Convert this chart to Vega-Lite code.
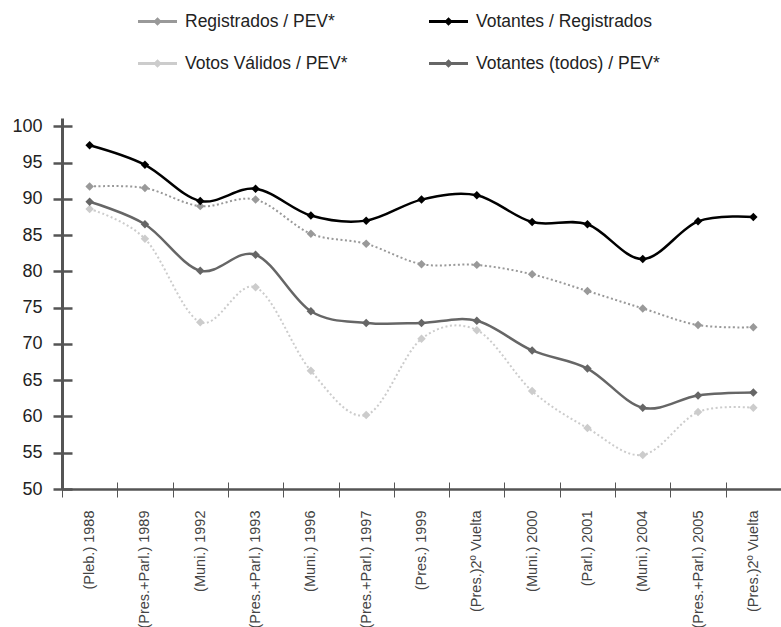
{
  "$schema": "https://vega.github.io/schema/vega-lite/v6.json",
  "width": 719,
  "height": 371,
  "autosize": "none",
  "padding": {"left": 62, "top": 118, "right": 0, "bottom": 138},
  "background": "white",
  "config": {
    "view": {"stroke": null},
    "font": "Liberation Sans",
    "axis": {"grid": false, "title": null, "labelFont": "Liberation Sans"}
  },
  "data": {
    "values": [
      {"eleccion": "(Pleb.) 1988", "serie": "Registrados / PEV*", "valor": 91.7},
      {"eleccion": "(Pres.+Parl.) 1989", "serie": "Registrados / PEV*", "valor": 91.5},
      {"eleccion": "(Muni.) 1992", "serie": "Registrados / PEV*", "valor": 89.0},
      {"eleccion": "(Pres.+Parl.) 1993", "serie": "Registrados / PEV*", "valor": 89.9},
      {"eleccion": "(Muni.) 1996", "serie": "Registrados / PEV*", "valor": 85.2},
      {"eleccion": "(Pres.+Parl.) 1997", "serie": "Registrados / PEV*", "valor": 83.8},
      {"eleccion": "(Pres.) 1999", "serie": "Registrados / PEV*", "valor": 81.0},
      {"eleccion": "(Pres.)2º Vuelta", "serie": "Registrados / PEV*", "valor": 80.9},
      {"eleccion": "(Muni.) 2000", "serie": "Registrados / PEV*", "valor": 79.6},
      {"eleccion": "(Parl.) 2001", "serie": "Registrados / PEV*", "valor": 77.3},
      {"eleccion": "(Muni.) 2004", "serie": "Registrados / PEV*", "valor": 74.9},
      {"eleccion": "(Pres.+Parl.) 2005", "serie": "Registrados / PEV*", "valor": 72.6},
      {"eleccion": "(Pres.)2º Vuelta#2", "serie": "Registrados / PEV*", "valor": 72.3},
      {"eleccion": "(Pleb.) 1988", "serie": "Votantes / Registrados", "valor": 97.4},
      {"eleccion": "(Pres.+Parl.) 1989", "serie": "Votantes / Registrados", "valor": 94.7},
      {"eleccion": "(Muni.) 1992", "serie": "Votantes / Registrados", "valor": 89.7},
      {"eleccion": "(Pres.+Parl.) 1993", "serie": "Votantes / Registrados", "valor": 91.4},
      {"eleccion": "(Muni.) 1996", "serie": "Votantes / Registrados", "valor": 87.7},
      {"eleccion": "(Pres.+Parl.) 1997", "serie": "Votantes / Registrados", "valor": 87.0},
      {"eleccion": "(Pres.) 1999", "serie": "Votantes / Registrados", "valor": 89.9},
      {"eleccion": "(Pres.)2º Vuelta", "serie": "Votantes / Registrados", "valor": 90.5},
      {"eleccion": "(Muni.) 2000", "serie": "Votantes / Registrados", "valor": 86.8},
      {"eleccion": "(Parl.) 2001", "serie": "Votantes / Registrados", "valor": 86.5},
      {"eleccion": "(Muni.) 2004", "serie": "Votantes / Registrados", "valor": 81.7},
      {"eleccion": "(Pres.+Parl.) 2005", "serie": "Votantes / Registrados", "valor": 86.9},
      {"eleccion": "(Pres.)2º Vuelta#2", "serie": "Votantes / Registrados", "valor": 87.5},
      {"eleccion": "(Pleb.) 1988", "serie": "Votos Válidos / PEV*", "valor": 88.6},
      {"eleccion": "(Pres.+Parl.) 1989", "serie": "Votos Válidos / PEV*", "valor": 84.5},
      {"eleccion": "(Muni.) 1992", "serie": "Votos Válidos / PEV*", "valor": 73.0},
      {"eleccion": "(Pres.+Parl.) 1993", "serie": "Votos Válidos / PEV*", "valor": 77.8},
      {"eleccion": "(Muni.) 1996", "serie": "Votos Válidos / PEV*", "valor": 66.3},
      {"eleccion": "(Pres.+Parl.) 1997", "serie": "Votos Válidos / PEV*", "valor": 60.2},
      {"eleccion": "(Pres.) 1999", "serie": "Votos Válidos / PEV*", "valor": 70.7},
      {"eleccion": "(Pres.)2º Vuelta", "serie": "Votos Válidos / PEV*", "valor": 71.9},
      {"eleccion": "(Muni.) 2000", "serie": "Votos Válidos / PEV*", "valor": 63.5},
      {"eleccion": "(Parl.) 2001", "serie": "Votos Válidos / PEV*", "valor": 58.4},
      {"eleccion": "(Muni.) 2004", "serie": "Votos Válidos / PEV*", "valor": 54.7},
      {"eleccion": "(Pres.+Parl.) 2005", "serie": "Votos Válidos / PEV*", "valor": 60.6},
      {"eleccion": "(Pres.)2º Vuelta#2", "serie": "Votos Válidos / PEV*", "valor": 61.2},
      {"eleccion": "(Pleb.) 1988", "serie": "Votantes (todos) / PEV*", "valor": 89.6},
      {"eleccion": "(Pres.+Parl.) 1989", "serie": "Votantes (todos) / PEV*", "valor": 86.5},
      {"eleccion": "(Muni.) 1992", "serie": "Votantes (todos) / PEV*", "valor": 80.1},
      {"eleccion": "(Pres.+Parl.) 1993", "serie": "Votantes (todos) / PEV*", "valor": 82.3},
      {"eleccion": "(Muni.) 1996", "serie": "Votantes (todos) / PEV*", "valor": 74.5},
      {"eleccion": "(Pres.+Parl.) 1997", "serie": "Votantes (todos) / PEV*", "valor": 72.9},
      {"eleccion": "(Pres.) 1999", "serie": "Votantes (todos) / PEV*", "valor": 72.9},
      {"eleccion": "(Pres.)2º Vuelta", "serie": "Votantes (todos) / PEV*", "valor": 73.2},
      {"eleccion": "(Muni.) 2000", "serie": "Votantes (todos) / PEV*", "valor": 69.1},
      {"eleccion": "(Parl.) 2001", "serie": "Votantes (todos) / PEV*", "valor": 66.6},
      {"eleccion": "(Muni.) 2004", "serie": "Votantes (todos) / PEV*", "valor": 61.2},
      {"eleccion": "(Pres.+Parl.) 2005", "serie": "Votantes (todos) / PEV*", "valor": 62.9},
      {"eleccion": "(Pres.)2º Vuelta#2", "serie": "Votantes (todos) / PEV*", "valor": 63.3}
    ]
  },
  "resolve": {
    "axis": {"x": "independent", "y": "independent"},
    "legend": {"color": "independent"}
  },
  "layer": [
    {
      "transform": [{"filter": {"field": "serie", "oneOf": ["Votantes / Registrados", "Votantes (todos) / PEV*"]}}],
      "mark": {"type": "line", "interpolate": "cardinal", "strokeWidth": 2.5},
      "encoding": {
        "x": {
          "field": "eleccion", "type": "nominal", "sort": null,
          "scale": {"type": "band", "paddingInner": 0, "paddingOuter": 0},
          "axis": {
            "orient": "bottom", "tickBand": "extent", "tickSize": 8, "tickWidth": 1, "tickColor": "#555",
            "domainColor": "#555", "domainWidth": 2.5, "labelAngle": 270, "labelAlign": "right",
            "labelBaseline": "middle", "labelPadding": 13, "labelFontSize": 14.5, "labelColor": "#444",
            "labelLimit": 0, "labelOverlap": false,
            "labelExpr": "replace(datum.label, '#2', '')"
          }
        },
        "y": {
          "field": "valor", "type": "quantitative",
          "scale": {"domain": [50, 101.15], "nice": false, "zero": false},
          "axis": {
            "orient": "left", "values": [50, 55, 60, 65, 70, 75, 80, 85, 90, 95, 100],
            "tickSize": 9, "tickWidth": 2.5, "tickColor": "#555", "domainColor": "#555", "domainWidth": 3,
            "labelFontSize": 18, "labelPadding": 11, "labelColor": "#222"
          }
        },
        "color": {
          "field": "serie", "type": "nominal",
          "scale": {
            "domain": ["Registrados / PEV*", "Votantes / Registrados", "Votos Válidos / PEV*", "Votantes (todos) / PEV*"],
            "range": ["#999999", "#000000", "#cccccc", "#666666"]
          },
          "legend": {
            "orient": "none", "legendX": 84, "legendY": -108, "columns": 2, "direction": "horizontal",
            "title": null, "padding": 0,
            "symbolType": "M-2,0H2M0,-0.22L0.22,0L0,0.22L-0.22,0Z",
            "symbolSize": 380, "symbolStrokeWidth": 3,
            "labelFontSize": 17.5, "labelColor": "#222", "labelFont": "Liberation Sans", "labelLimit": 400,
            "labelOffset": 16, "columnPadding": 75, "rowPadding": 22,
            "encode": {
              "symbols": {
                "update": {
                  "fill": {"scale": "color", "field": "value"},
                  "stroke": {"scale": "color", "field": "value"},
                  "strokeWidth": {"value": 3},
                  "opacity": {"value": 1}
                }
              }
            }
          }
        }
      }
    },
    {
      "transform": [{"filter": {"field": "serie", "oneOf": ["Registrados / PEV*", "Votos Válidos / PEV*"]}}],
      "mark": {"type": "line", "interpolate": "cardinal", "strokeWidth": 2, "strokeDash": [2, 2.5]},
      "encoding": {
        "x": {"field": "eleccion", "type": "nominal", "sort": null, "axis": null},
        "y": {"field": "valor", "type": "quantitative", "axis": null},
        "color": {"field": "serie", "type": "nominal", "legend": null}
      }
    },
    {
      "mark": {"type": "point", "shape": "diamond", "filled": true, "size": 72, "opacity": 1},
      "encoding": {
        "x": {"field": "eleccion", "type": "nominal", "sort": null, "axis": null},
        "y": {"field": "valor", "type": "quantitative", "axis": null},
        "color": {"field": "serie", "type": "nominal", "legend": null}
      }
    },
    {
      "mark": {"type": "point", "opacity": 0},
      "encoding": {
        "x": {
          "field": "eleccion", "type": "nominal", "sort": null,
          "axis": {"orient": "bottom", "tickBand": "extent", "tickSize": -7, "tickWidth": 1, "tickColor": "#555",
                   "labels": false, "domain": false}
        },
        "y": {
          "field": "valor", "type": "quantitative",
          "axis": {"orient": "left", "values": [50, 55, 60, 65, 70, 75, 80, 85, 90, 95, 100],
                   "tickSize": -10, "tickWidth": 2.5, "tickColor": "#555", "labels": false, "domain": false}
        }
      }
    }
  ]
}
